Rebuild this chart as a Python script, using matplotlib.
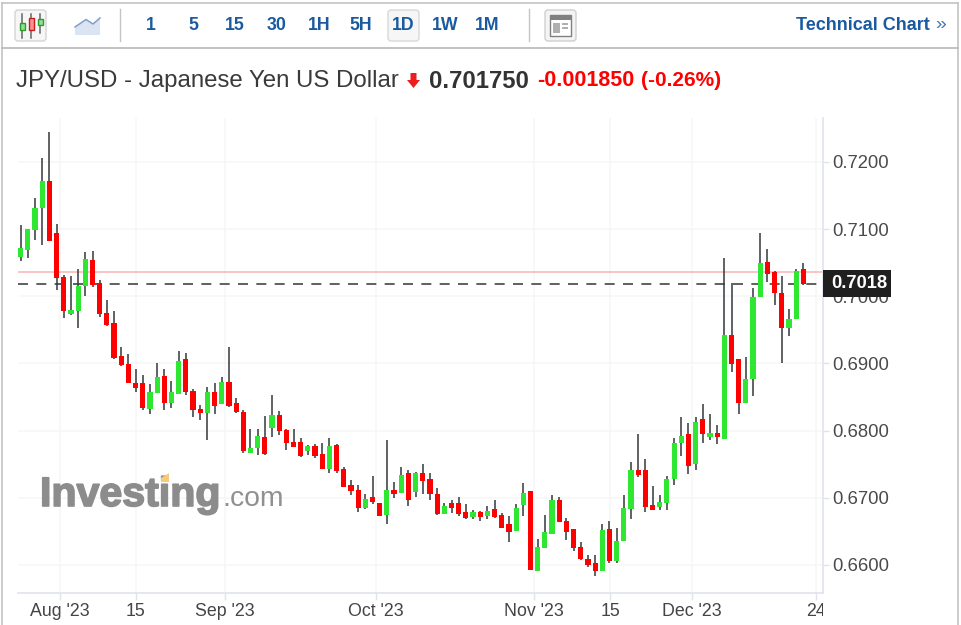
import numpy as np
import matplotlib
matplotlib.use("Agg")
import matplotlib.pyplot as plt
import matplotlib.patheffects as pe
from matplotlib.patches import Rectangle, FancyBboxPatch, Polygon
from matplotlib.transforms import Bbox

plt.rcParams['font.family'] = ['Liberation Sans', 'DejaVu Sans']

opens = [.70579,.70687,.70985,.71312,.71714,.70936,.70285,.69730,.69775,.70156,
 .70534,.70196,.69750,.69597,.69105,.68991,.68704,.68704,.68321,.68564,
 .68812,.68411,.68544,.69061,.68589,.68321,.68257,.68570,.68391,.68723,
 .68411,.68277,.67671,.67741,.67900,.68034,.68232,.68009,.67830,.67830,
 .67696,.67766,.67652,.67429,.67786,.67429,.67186,.67116,.66848,.67007,
 .66918,.66740,.67116,.67071,.67365,.67091,.67365,.67275,.67052,.66759,
 .66918,.66918,.66784,.66714,.66784,.66734,.66829,.66740,.66606,.66510,
 .66893,.67097,.65911,.66249,.66466,.66963,.66650,.66536,.66268,.66089,
 .66025,.65906,.66536,.66064,.66353,.66829,.67409,.67409,.66893,.66868,
 .66918,.67275,.67811,.67945,.67498,.68168,.67900,.67960,.67879,.69418,
 .69061,.68411,.68772,.69993,.70509,.70355,.70043,.69531,.69660,.70400]
closes = [.70713,.71000,.71312,.71714,.70826,.70266,.69775,.69794,.70152,.70553,
 .70171,.69730,.69576,.69080,.68972,.68704,.68634,.68341,.68570,.68793,
 .68411,.68570,.69036,.68570,.68302,.68257,.68570,.68366,.68723,.68366,
 .68277,.67696,.67741,.67920,.67652,.68232,.67990,.67811,.67760,.67626,
 .67766,.67626,.67424,.67766,.67403,.67156,.67097,.66853,.66982,.66937,
 .66734,.67116,.67052,.67339,.66963,.67369,.67250,.67052,.66759,.66873,
 .66848,.66759,.66695,.66784,.66714,.66804,.66714,.66555,.66491,.66848,
 .67071,.65926,.66268,.66491,.66963,.66644,.66496,.66249,.66089,.66000,
 .65911,.66516,.66064,.66357,.66848,.67409,.67339,.66868,.66823,.66937,
 .67275,.67811,.67920,.67478,.68123,.67949,.67960,.67900,.69418,.68995,
 .68411,.68768,.69993,.70489,.70335,.70043,.69531,.69660,.70375,.70175]
highs = [.71059,.71000,.71461,.72061,.72443,.71079,.70315,.70300,.70409,.70657,
 .70677,.70241,.69943,.69784,.69248,.69140,.68912,.68827,.68689,.69006,
 .68912,.68733,.69184,.69159,.68623,.68381,.68649,.68713,.68802,.69248,
 .68490,.68306,.68024,.68024,.68222,.68534,.68292,.68024,.68024,.67890,
 .67781,.67800,.67820,.67885,.67796,.67463,.67260,.67195,.67061,.67329,
 .66918,.67865,.67240,.67463,.67414,.67380,.67507,.67373,.67146,.66918,
 .66972,.67016,.66903,.66818,.66799,.66882,.66972,.66769,.66725,.66903,
 .67216,.67106,.66387,.66749,.67042,.67016,.66704,.66536,.66347,.66149,
 .66149,.66615,.66659,.66551,.67042,.67533,.67954,.67577,.67176,.67042,
 .67329,.67885,.68202,.68113,.68202,.68400,.68247,.68088,.70564,.70192,
 .69065,.69095,.70117,.70945,.70698,.70379,.70296,.69810,.70404,.70498]
lows = [.70524,.70568,.70836,.70766,.70826,.70092,.69675,.69720,.69527,.70003,
 .70141,.69695,.69561,.69065,.68957,.68704,.68574,.68306,.68242,.68555,
 .68306,.68332,.68544,.68534,.68202,.68153,.67865,.68242,.68391,.68355,
 .68266,.67667,.67662,.67641,.67641,.67909,.67930,.67711,.67760,.67603,
 .67637,.67597,.67424,.67373,.67373,.67156,.67037,.66789,.66838,.66908,
 .66725,.66615,.66997,.67071,.66882,.67016,.67061,.66972,.66749,.66759,
 .66769,.66729,.66685,.66680,.66659,.66685,.66704,.66546,.66347,.66501,
 .66729,.65926,.65911,.66249,.66457,.66635,.66372,.66213,.66079,.65970,
 .65836,.65906,.66034,.66034,.66353,.66685,.67305,.66793,.66818,.66818,
 .66818,.67195,.67622,.67354,.67418,.67820,.67860,.67800,.67879,.68867,
 .68247,.68411,.68515,.69993,.70207,.69874,.69001,.69403,.69660,.70166]

x_tick_pos = [5.47, 16.05, 28.45, 49.5, 71.5, 82.1, 93.5, 110.8]
x_tick_labels = ["Aug '23", "15", "Sep '23", "Oct '23", "Nov '23", "15", "Dec '23", "24"]
y_ticks = [0.66, 0.67, 0.68, 0.69, 0.70, 0.71, 0.72]
intervals = ["1", "5", "15", "30", "1H", "5H", "1D", "1W", "1M"]
last_close = 0.70175
prev_close = 0.7036

W, H = 961, 625
fig = plt.figure(figsize=(W/100, H/100), dpi=100, facecolor="white")

# overlay in pixel coordinates for the page furniture
ui = fig.add_axes([0, 0, 1, 1], zorder=3)
ui.set_xlim(0, W); ui.set_ylim(H, 0); ui.axis("off"); ui.patch.set_alpha(0)

# price axes
L, R, T, B = 18, 823, 118, 593
ax = fig.add_axes([L/W, 1-B/H, (R-L)/W, (B-T)/H], zorder=2)
ax.patch.set_alpha(0)
ax.set_xlim(-0.376, 111.74)
ax.set_ylim(0.65583, 0.72652)

AXC = "#dfe3ec"
GRID = "#f6f6f8"
for s in ("left", "top"):
    ax.spines[s].set_visible(False)
for s in ("right", "bottom"):
    ax.spines[s].set_color(AXC); ax.spines[s].set_linewidth(1.2)
ax.yaxis.tick_right()
ax.set_yticks(y_ticks)
ax.set_yticklabels([f"{v:.4f}" for v in y_ticks], fontsize=13.3, color="#4a4a4a")
ax.set_xticks(x_tick_pos)
ax.set_xticklabels(x_tick_labels, fontsize=12.8, color="#444444")
ax.tick_params(axis="x", length=5, width=1, color=AXC, pad=2)
ax.tick_params(axis="y", length=4, width=1, color=AXC, pad=2.5)
ax.grid(True, color=GRID, lw=1.1)
ax.set_axisbelow(True)
for lbl, txt in zip(ax.get_xticklabels(), x_tick_labels):
    if txt == "24":
        lbl.set_clip_on(True)
        lbl.set_clip_box(Bbox([[0, 0], [R, H]]))

idx = np.arange(len(opens))
o, c, h, l = map(np.array, (opens, closes, highs, lows))
up = c >= o
ax.vlines(idx, l, h, color="#33383c", lw=1.1, zorder=3)
ax.bar(idx[up], (c-o)[up], bottom=o[up], width=0.72, color="#2fe632", zorder=4, linewidth=0)
ax.bar(idx[~up], (o-c)[~up], bottom=c[~up], width=0.72, color="#ff0000", zorder=4, linewidth=0)

ax.axhline(prev_close, color="#f7b5b5", lw=1.1, zorder=2)
ax.axhline(last_close, color="#444444", lw=1.2, dashes=(6, 5), zorder=2)

# last price tag
ui.add_patch(Rectangle((823, 270), 68, 27, fc="#1f1f1f", ec="none", zorder=5))
ui.text(859.5, 284, "0.7018", color="white", fontsize=13.2, fontweight="bold",
        ha="center", va="center", zorder=6)

# outer frame
BORDER = "#c4c4c4"
ui.plot([1.5, 1.5], [2.5, H], color=BORDER, lw=1.2)
ui.plot([957.5, 957.5], [2.5, H], color=BORDER, lw=1.2)
ui.plot([1.5, 957.5], [2.5, 2.5], color=BORDER, lw=1.2)
ui.plot([1.5, 957.5], [48, 48], color="#b8b8b8", lw=1.2)

# toolbar: candle icon
ui.add_patch(FancyBboxPatch((15, 10), 31, 31, boxstyle="round,pad=0,rounding_size=3",
                            fc="#f6f6f6", ec="#d4d4d4", lw=1))
for xx, y0, y1, by0, by1, fc, ec in [(22, 14, 38, 23, 30, "#8fe08f", "#2f9b2f"),
                                     (31, 14, 38, 18, 30, "#ff8f8f", "#c02020"),
                                     (40, 14, 33, 19, 25, "#8fe08f", "#2f9b2f")]:
    ui.plot([xx, xx], [y0, y1], color="#666666", lw=1.1)
    ui.add_patch(Rectangle((xx-2.5, by0), 5, by1-by0, fc=fc, ec=ec, lw=1, zorder=4))
# area icon
ui.add_patch(Polygon([(75, 27), (86, 19.5), (93, 24), (100, 18), (100, 35), (75, 35)],
                     fc="#dbe4f3", ec="none"))
ui.plot([75, 86, 93, 100], [27, 19.5, 24, 18], color="#7fa0cf", lw=1.1)
ui.plot([119.5, 119.5], [9, 41], color="#c4c4c4", lw=1)
ui.plot([528.5, 528.5], [9, 41], color="#c4c4c4", lw=1)
# 1D highlight
ui.add_patch(FancyBboxPatch((388, 10), 31, 31, boxstyle="round,pad=0,rounding_size=3",
                            fc="#f6f6f6", ec="#d8d8d8", lw=1))
BLUE = "#1a5a9f"
for i, t in enumerate(intervals):
    ui.text(151 + 42*i, 25.5, t, color=BLUE, fontsize=12.8, fontweight="bold",
            ha="center", va="center", zorder=5)
# layout icon
ui.add_patch(FancyBboxPatch((545, 10), 31, 31, boxstyle="round,pad=0,rounding_size=3",
                            fc="#f4f4f4", ec="#cfcfcf", lw=1))
ui.add_patch(Rectangle((550, 15), 21, 21, fc="white", ec="#808080", lw=1, zorder=4))
ui.add_patch(Rectangle((550, 15), 21, 5, fc="#808080", ec="none", zorder=4))
ui.add_patch(Rectangle((553, 23), 7, 10, fc="#b0b0b0", ec="none", zorder=5))
ui.add_patch(Rectangle((562, 23), 6, 2, fc="#b0b0b0", ec="none", zorder=5))
ui.add_patch(Rectangle((562, 27), 6, 2, fc="#b0b0b0", ec="none", zorder=5))
ui.text(930, 25.5, "Technical Chart", color=BLUE, fontsize=13, fontweight="bold",
        ha="right", va="center")
ui.text(941, 25, "»", color="#3f78b8", fontsize=14, ha="center", va="center")

# header line
ui.text(16, 81, "JPY/USD - Japanese Yen US Dollar", color="#3a3a3a", fontsize=17.3,
        ha="left", va="center")
ui.add_patch(Polygon([(410.5, 73), (416.5, 73), (416.5, 80), (420, 80), (413.5, 88), (407, 80), (410.5, 80)],
                     fc="#ee1c1c", ec="none"))
ui.text(429, 81, "0.701750", color="#333333", fontsize=17.2, fontweight="bold", ha="left", va="center")
ui.text(537, 81, "-0.001850", color="#ff0000", fontsize=15.5, fontweight="bold", ha="left", va="center")
ui.text(641, 81, "(-0.26%)", color="#ff0000", fontsize=15, fontweight="bold", ha="left", va="center")

# watermark
ui.text(40, 495, "Investing", color="#8c8c8c", fontsize=29.6, fontweight="bold", ha="left", va="center",
        zorder=1, path_effects=[pe.withStroke(linewidth=1.2, foreground="#8c8c8c")])
ui.text(222, 499, ".com", color="#909090", fontsize=20.3, ha="left", va="center", zorder=1)
ui.add_patch(Polygon([(161, 478), (169, 473), (169, 482), (161, 482)], fc="#f9c97a", ec="none", zorder=2))

fig.savefig("out.png", dpi=100, facecolor="white")
